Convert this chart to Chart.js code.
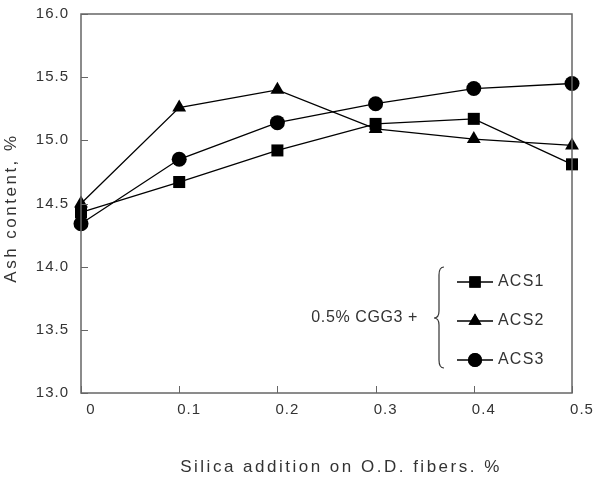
<!DOCTYPE html>
<html>
<head>
<meta charset="utf-8">
<script src="https://cdn.jsdelivr.net/npm/chart.js@4.4.1/dist/chart.umd.min.js"></script>
<style>
  html, body { margin: 0; padding: 0; background: #fff; }
  #wrap { width: 607px; height: 477px; }
</style>
</head>
<body>
<div id="wrap"><canvas id="ashChart" width="607" height="477"></canvas></div>
<script>
// silica addition levels (% on O.D. fibers)
const silica = [0, 0.1, 0.2, 0.3, 0.4, 0.5];

// ash content, %
const acs1 = [14.43, 14.67, 14.92, 15.13, 15.17, 14.81];
const acs2 = [14.50, 15.26, 15.40, 15.09, 15.01, 14.96];
const acs3 = [14.34, 14.85, 15.14, 15.29, 15.41, 15.45];

const seriesNames = ["ACS1", "ACS2", "ACS3"];
const legendPrefix = "0.5% CGG3 +";
const xTitle = "Silica addition on O.D. fibers. %";
const yTitle = "Ash content, %";

const FONT = "'Liberation Sans', Arial, sans-serif";
const TEXT = "#333";

function toPoints(ys) {
    return silica.map((x, i) => ({ x: x, y: ys[i] }));
}

function series(label, ys, style, radius) {
    return {
        label: label,
        data: toPoints(ys),
        borderColor: "#000",
        backgroundColor: "#000",
        borderWidth: 1.3,
        pointStyle: style,
        pointRadius: radius,
        pointBorderWidth: 0,
        pointBackgroundColor: "#000",
        clip: false,
        tension: 0
    };
}

function spacedText(ctx, text, x, y, font, spacing, align) {
    ctx.font = font;
    ctx.letterSpacing = spacing + "px";
    ctx.textAlign = align || "center";
    ctx.textBaseline = "middle";
    ctx.fillText(text, x, y);
}

/* wider glyph spacing for the tick labels (the original font is wide) */
const spacingPlugin = {
    id: "spacing",
    beforeDraw(chart) {
        chart.ctx.letterSpacing = "1px";
    }
};

/* frame, inward tick marks, axis titles */
const framePlugin = {
    id: "frame",
    afterDatasetsDraw(chart) {
        const { ctx, chartArea: a, scales } = chart;
        ctx.save();
        ctx.strokeStyle = "#666";
        ctx.lineWidth = 1.5;
        ctx.strokeRect(a.left, a.top, a.right - a.left, a.bottom - a.top);
        ctx.lineWidth = 1;
        scales.x.ticks.forEach(t => {
            const px = Math.round(scales.x.getPixelForValue(t.value)) + 0.5;
            ctx.beginPath();
            ctx.moveTo(px, a.bottom);
            ctx.lineTo(px, a.bottom - 7);
            ctx.stroke();
        });
        scales.y.ticks.forEach(t => {
            const py = Math.round(scales.y.getPixelForValue(t.value)) + 0.5;
            ctx.beginPath();
            ctx.moveTo(a.left, py);
            ctx.lineTo(a.left + 7, py);
            ctx.stroke();
        });

        ctx.fillStyle = TEXT;
        spacedText(ctx, xTitle, 341, 467, "17px " + FONT, 2.5);
        ctx.translate(11, 208);
        ctx.rotate(-Math.PI / 2);
        spacedText(ctx, yTitle, 0, 0, "17px " + FONT, 2.5);
        ctx.restore();
    }
};

/* legend with the curly brace */
const bracePlugin = {
    id: "braceLegend",
    afterDraw(chart) {
        const { ctx, chartArea: a } = chart;
        const styles = ["rect", "triangle", "circle"];
        const radii = [8, 7.5, 7];
        const rows = [a.bottom - 111, a.bottom - 72, a.bottom - 33];
        ctx.save();

        rows.forEach((y, i) => {
            ctx.strokeStyle = "#000";
            ctx.lineWidth = 1.3;
            ctx.beginPath();
            ctx.moveTo(a.right - 115, y);
            ctx.lineTo(a.right - 79, y);
            ctx.stroke();
            ctx.fillStyle = "#000";
            Chart.helpers.drawPoint(ctx, { pointStyle: styles[i], radius: radii[i], borderWidth: 0 }, a.right - 97, y);
            ctx.fill();
            ctx.fillStyle = TEXT;
            spacedText(ctx, seriesNames[i], a.right - 74, y, "16px " + FONT, 1.2, "left");
        });

        // brace
        const bx = a.right - 133, top = a.bottom - 126, bot = a.bottom - 25, mid = a.bottom - 75;
        ctx.strokeStyle = "#333";
        ctx.lineWidth = 1.2;
        ctx.beginPath();
        ctx.moveTo(bx + 5, top);
        ctx.quadraticCurveTo(bx, top, bx, top + 8);
        ctx.lineTo(bx, mid - 7);
        ctx.quadraticCurveTo(bx, mid, bx - 5, mid);
        ctx.quadraticCurveTo(bx, mid, bx, mid + 7);
        ctx.lineTo(bx, bot - 8);
        ctx.quadraticCurveTo(bx, bot, bx + 5, bot);
        ctx.stroke();

        ctx.fillStyle = TEXT;
        spacedText(ctx, legendPrefix, a.right - 154, mid, "16px " + FONT, 0.6, "right");
        ctx.restore();
    }
};

new Chart(document.getElementById("ashChart"), {
    type: "line",
    data: {
        datasets: [
            series(seriesNames[0], acs1, "rect", 8.5),
            series(seriesNames[1], acs2, "triangle", 8),
            series(seriesNames[2], acs3, "circle", 7.5)
        ]
    },
    options: {
        responsive: false,
        animation: false,
        layout: { padding: { left: 0, top: 14, right: 35, bottom: 0 } },
        plugins: {
            legend: { display: false },
            tooltip: { enabled: false }
        },
        scales: {
            x: {
                type: "linear",
                min: 0,
                max: 0.5,
                afterFit: s => {
                    s.height = 84;
                    s.paddingLeft = 0;
                    s.paddingRight = 0;
                },
                grid: { display: false, drawTicks: false },
                border: { display: false },
                ticks: {
                    stepSize: 0.1,
                    padding: 8,
                    labelOffset: 10,
                    color: TEXT,
                    font: { family: FONT, size: 15 },
                    callback: v => (v === 0 ? "0" : v.toFixed(1))
                }
            },
            y: {
                min: 13,
                max: 16,
                afterFit: s => {
                    s.width = 81;
                    s.paddingTop = 0;
                    s.paddingBottom = 0;
                },
                grid: { display: false, drawTicks: false },
                border: { display: false },
                ticks: {
                    stepSize: 0.5,
                    padding: 12,
                    color: TEXT,
                    font: { family: FONT, size: 15 },
                    callback: v => v.toFixed(1)
                }
            }
        }
    },
    plugins: [spacingPlugin, framePlugin, bracePlugin]
});
</script>
</body>
</html>
